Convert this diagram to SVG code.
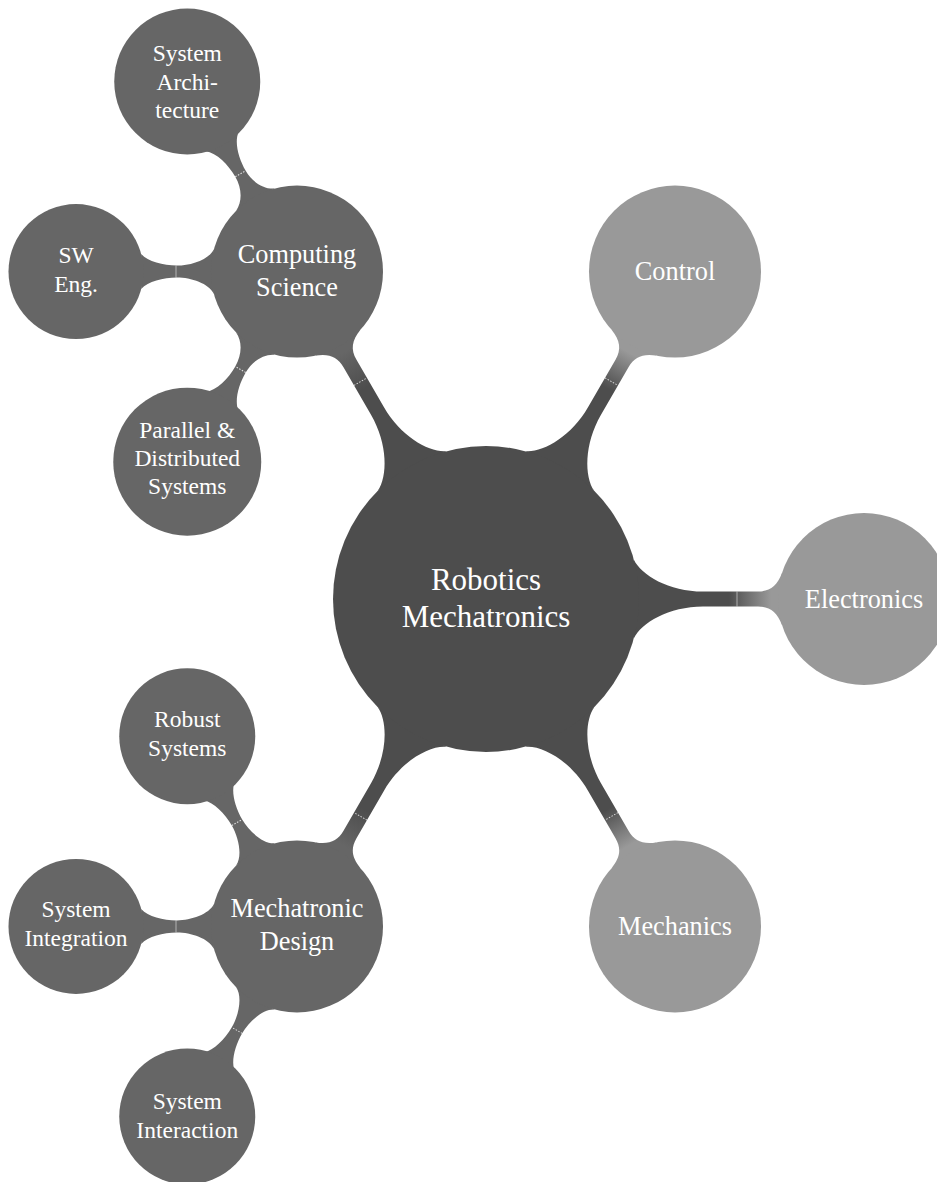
<svg xmlns="http://www.w3.org/2000/svg" width="937" height="1182" viewBox="0 0 937 1182">
<style>
  .t { font-family: "Liberation Serif", "Times New Roman", serif; fill: #ffffff; text-anchor: middle; }
  .t0 { font-size: 31px; }
  .t1 { font-size: 26.3px; }
  .t2 { font-size: 23.5px; }
  .c0 { fill: #4d4d4d; }
  .cd { fill: #666666; }
  .cl { fill: #999999; }
  .mk { stroke: #ffffff; stroke-width: 1; stroke-opacity: 0.8; stroke-dasharray: 1.5 1.5; fill: none; }
  .mks { stroke: #ffffff; stroke-width: 1; stroke-opacity: 0.5; fill: none; }
</style>
<defs>
  <linearGradient id="gD" gradientUnits="userSpaceOnUse" x1="243" y1="0" x2="285" y2="0">
    <stop offset="0" stop-color="#4d4d4d"/>
    <stop offset="1" stop-color="#666666"/>
  </linearGradient>
  <linearGradient id="gL" gradientUnits="userSpaceOnUse" x1="243" y1="0" x2="285" y2="0">
    <stop offset="0" stop-color="#4d4d4d"/>
    <stop offset="1" stop-color="#999999"/>
  </linearGradient>
  <path id="bar1" d="M 147.8 39.6 C 155 24 183 7.5 217 7.5 L 272 7.5 C 284 7.5 291 13 296 25.9 L 296 -25.9 C 291 -13 284 -7.5 272 -7.5 L 217 -7.5 C 183 -7.5 155 -24 147.8 -39.6 Z"/>
  <path id="bar2s" d="M 83.1 22.3 C 88 12 106 6 120 6 C 134 6 149 10 155.8 17.5 L 155.8 -17.5 C 149 -10 134 -6 120 -6 C 106 -6 88 -12 83.1 -22.3 Z"/>
  <path id="bar2b" d="M 83.1 22.3 C 88 12 100 6 113 6 C 127 6 143 10 150 19 L 150 -19 C 143 -10 127 -6 113 -6 C 100 -6 88 -12 83.1 -22.3 Z"/>
</defs>

<g id="connectors">
  <use href="#bar1" fill="url(#gD)" transform="translate(486,599) rotate(-120)"/>
  <use href="#bar1" fill="url(#gL)" transform="translate(486,599) rotate(-60)"/>
  <use href="#bar1" fill="url(#gL)" transform="translate(486,599)"/>
  <use href="#bar1" fill="url(#gL)" transform="translate(486,599) rotate(60)"/>
  <use href="#bar1" fill="url(#gD)" transform="translate(486,599) rotate(120)"/>
  <use href="#bar2b" class="cd" transform="translate(297,271.6) rotate(-120)"/>
  <use href="#bar2s" class="cd" transform="translate(297,271.6) rotate(180)"/>
  <use href="#bar2b" class="cd" transform="translate(297,271.6) rotate(120)"/>
  <use href="#bar2s" class="cd" transform="translate(297,926.4) rotate(-120)"/>
  <use href="#bar2s" class="cd" transform="translate(297,926.4) rotate(180)"/>
  <use href="#bar2s" class="cd" transform="translate(297,926.4) rotate(120)"/>
  <line class="mk" x1="251" y1="-7.5" x2="251" y2="7.5" transform="translate(486,599) rotate(-120)"/>
  <line class="mk" x1="251" y1="-7.5" x2="251" y2="7.5" transform="translate(486,599) rotate(-60)"/>
  <line class="mks" x1="251" y1="-7.5" x2="251" y2="7.5" transform="translate(486,599)"/>
  <line class="mk" x1="251" y1="-7.5" x2="251" y2="7.5" transform="translate(486,599) rotate(60)"/>
  <line class="mk" x1="251" y1="-7.5" x2="251" y2="7.5" transform="translate(486,599) rotate(120)"/>
  <line class="mk" x1="113" y1="-6" x2="113" y2="6" transform="translate(297,271.6) rotate(-120)"/>
  <line class="mks" x1="121" y1="-6" x2="121" y2="6" transform="translate(297,271.6) rotate(180)"/>
  <line class="mk" x1="113" y1="-6" x2="113" y2="6" transform="translate(297,271.6) rotate(120)"/>
  <line class="mk" x1="120" y1="-6" x2="120" y2="6" transform="translate(297,926.4) rotate(-120)"/>
  <line class="mks" x1="121" y1="-6" x2="121" y2="6" transform="translate(297,926.4) rotate(180)"/>
  <line class="mk" x1="120" y1="-6" x2="120" y2="6" transform="translate(297,926.4) rotate(120)"/>
</g>

<g id="robotics" transform="translate(486,599)">
  <circle class="c0" r="153"/>
  <text class="t t0" y="-9">Robotics</text>
  <text class="t t0" y="28">Mechatronics</text>
</g>

<g id="computing-science" transform="translate(297,271.6)">
  <circle class="cd" r="86"/>
  <text class="t t1" y="-9">Computing</text>
  <text class="t t1" y="24">Science</text>
</g>

<g id="control" transform="translate(675,271.6)">
  <circle class="cl" r="86"/>
  <text class="t t1" y="8.5">Control</text>
</g>

<g id="electronics" transform="translate(864,599)">
  <circle class="cl" r="86"/>
  <text class="t t1" y="8.5">Electronics</text>
</g>

<g id="mechanics" transform="translate(675,926.4)">
  <circle class="cl" r="86"/>
  <text class="t t1" y="8.5">Mechanics</text>
</g>

<g id="mechatronic-design" transform="translate(297,926.4)">
  <circle class="cd" r="86"/>
  <text class="t t1" y="-9">Mechatronic</text>
  <text class="t t1" y="24">Design</text>
</g>

<g id="system-architecture" transform="translate(187.25,81.5)">
  <circle class="cd" r="73"/>
  <text class="t t2" y="-20.5">System</text>
  <text class="t t2" y="8.5">Archi-</text>
  <text class="t t2" y="36.5">tecture</text>
</g>

<g id="sw-eng" transform="translate(76,271.6)">
  <circle class="cd" r="67.5"/>
  <text class="t t2" y="-9">SW</text>
  <text class="t t2" y="20">Eng.</text>
</g>

<g id="parallel-distributed" transform="translate(187.25,461.7)">
  <circle class="cd" r="74"/>
  <text class="t t2" y="-23.5">Parallel &amp;</text>
  <text class="t t2" y="4.5">Distributed</text>
  <text class="t t2" y="32.5">Systems</text>
</g>

<g id="robust-systems" transform="translate(187.25,736.3)">
  <circle class="cd" r="68"/>
  <text class="t t2" y="-9">Robust</text>
  <text class="t t2" y="20">Systems</text>
</g>

<g id="system-integration" transform="translate(76,926.4)">
  <circle class="cd" r="67.5"/>
  <text class="t t2" y="-9">System</text>
  <text class="t t2" y="20">Integration</text>
</g>

<g id="system-interaction" transform="translate(187.25,1116.5)">
  <circle class="cd" r="68"/>
  <text class="t t2" y="-8">System</text>
  <text class="t t2" y="21">Interaction</text>
</g>
</svg>
